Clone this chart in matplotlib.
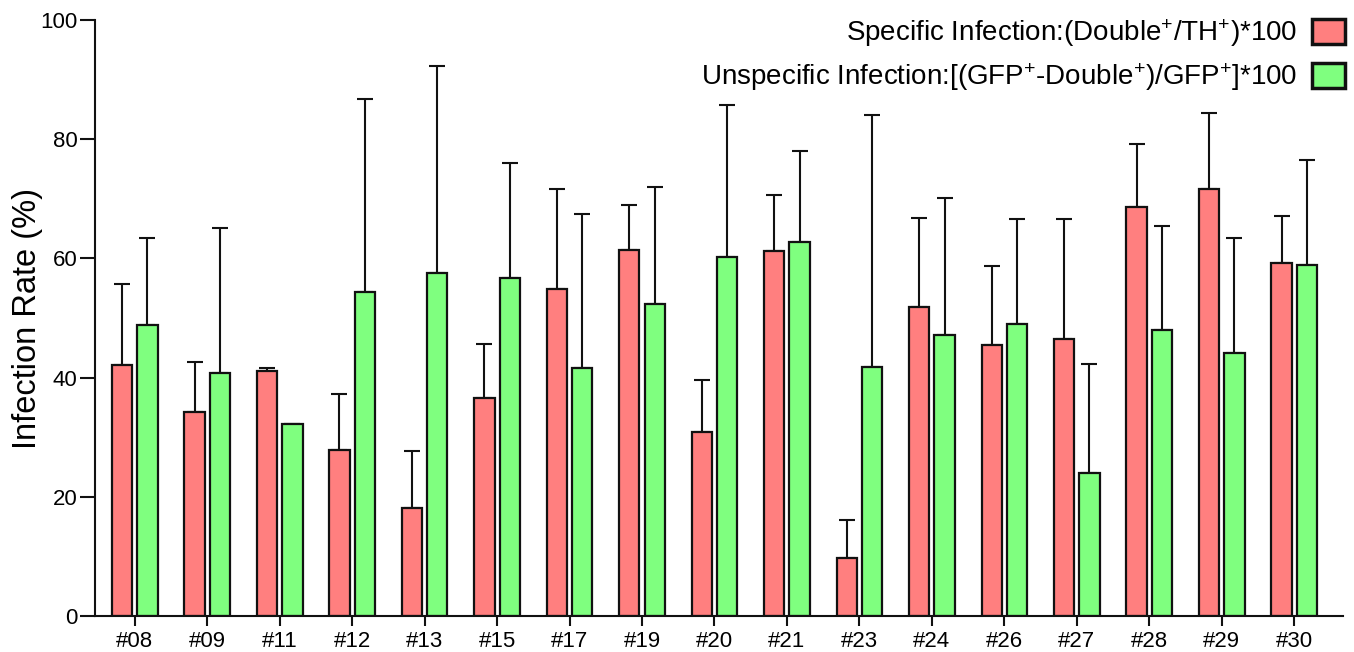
import numpy as np
import matplotlib
matplotlib.use("Agg")
import matplotlib.pyplot as plt

plt.rcParams['font.family'] = ['Liberation Sans', 'DejaVu Sans']
plt.rcParams['mathtext.fontset'] = 'custom'
plt.rcParams['mathtext.rm'] = 'Liberation Sans'
plt.rcParams['mathtext.it'] = 'Liberation Sans:italic'

samples = ['#08', '#09', '#11', '#12', '#13', '#15', '#17', '#19', '#20',
           '#21', '#23', '#24', '#26', '#27', '#28', '#29', '#30']
specific = [42.1, 34.3, 41.1, 27.9, 18.1, 36.6, 54.8, 61.4, 30.9,
            61.2, 9.8, 51.8, 45.5, 46.4, 68.6, 71.6, 59.2]
specific_sd = [13.6, 8.4, 0.6, 9.3, 9.6, 9.0, 16.9, 7.6, 8.7,
               9.5, 6.3, 15.0, 13.2, 20.3, 10.6, 12.8, 7.9]
unspecific = [48.9, 40.8, 32.3, 54.3, 57.6, 56.8, 41.6, 52.3, 60.2,
              62.8, 41.8, 47.2, 49.0, 24.0, 48.0, 44.1, 58.9]
unspecific_sd = [14.5, 24.3, 0.0, 32.4, 34.7, 19.2, 25.8, 19.7, 25.5,
                 15.2, 42.3, 23.0, 17.7, 18.3, 17.5, 19.3, 17.6]

label_spec = r'Specific Infection:(Double$^{+}$/TH$^{+}$)*100'
label_unspec = r'Unspecific Infection:[(GFP$^{+}$-Double$^{+}$)/GFP$^{+}$]*100'

x = np.arange(len(samples))
w = 0.28
off = 0.175

fig = plt.figure(figsize=(13.54, 6.52), dpi=100)
ax = fig.add_axes([0.070, 0.0552, 0.922, 0.914])

ax.bar(x - off, specific, w, color='#FF7F7F', edgecolor='#111111', linewidth=1.6,
       label=label_spec, zorder=2)
ax.bar(x + off, unspecific, w, color='#7FFF7F', edgecolor='#111111', linewidth=1.6,
       label=label_unspec, zorder=2)
ax.errorbar(x - off, specific, yerr=[np.zeros(len(x)), specific_sd], fmt='none',
            ecolor='#111111', elinewidth=1.5, capsize=6, capthick=1.5, zorder=1)
ax.errorbar(x + off, unspecific, yerr=[np.zeros(len(x)), unspecific_sd], fmt='none',
            ecolor='#111111', elinewidth=1.5, capsize=6, capthick=1.5, zorder=1)

ax.set_xlim(-0.552, 16.676)
ax.set_ylim(0, 100)
ax.set_yticks([0, 20, 40, 60, 80, 100])
ax.set_xticks(x)
ax.set_xticklabels(samples)
ax.tick_params(axis='both', labelsize=16, width=1.5, length=7, color='#111111')
ax.tick_params(axis='y', length=10.5, pad=2)
ax.set_ylabel('Infection Rate (%)', fontsize=23.5, labelpad=-2)

for s in ['top', 'right']:
    ax.spines[s].set_visible(False)
for s in ['left', 'bottom']:
    ax.spines[s].set_linewidth(1.5)
    ax.spines[s].set_color('#111111')

leg = ax.legend(loc='upper right', bbox_to_anchor=(1345 / 1354, 1 - 17 / 652),
                bbox_transform=fig.transFigure, markerfirst=False,
                frameon=False, fontsize=20, handlelength=1.2, handleheight=1.0,
                handletextpad=0.5, labelspacing=0.45, borderaxespad=0, borderpad=0)
for p in leg.get_patches():
    p.set_linewidth(2.5)

plt.savefig('out.png', dpi=100)
